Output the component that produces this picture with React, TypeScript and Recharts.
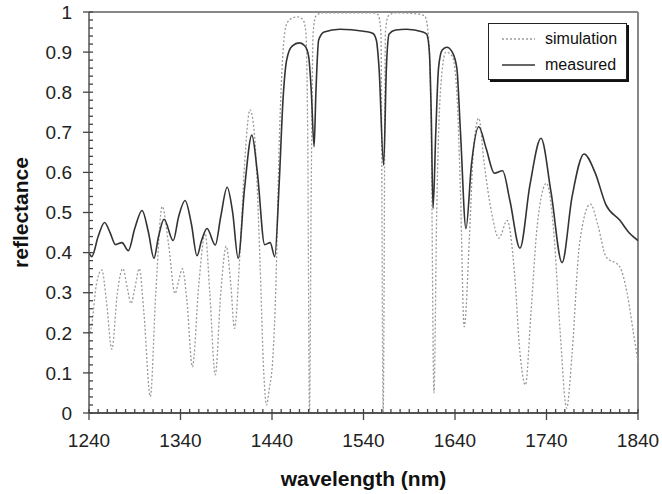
import React from 'react';
import { LineChart, Line, XAxis, YAxis, Legend, Label, ReferenceLine } from 'recharts';

const FONT = '"Liberation Sans", Arial, sans-serif';

const seriesNames = ['simulation', 'measured'];

const measuredWavelength = [
  1240, 1243, 1250, 1257, 1263, 1269, 1276, 1283, 1290, 1298, 1305, 1311, 1316, 1322, 1332, 1338,
  1345, 1352, 1358, 1363, 1369, 1378, 1384, 1391, 1397, 1403, 1410, 1418, 1424, 1432, 1438, 1443,
  1448, 1452, 1456, 1462, 1470, 1476, 1480, 1483, 1486, 1488, 1491, 1497, 1514, 1540, 1550, 1554,
  1557, 1562, 1565, 1568, 1575, 1587, 1605, 1609, 1612, 1614, 1616, 1619, 1622, 1626, 1631, 1637,
  1642, 1646, 1652, 1658, 1666, 1674, 1683, 1692, 1700, 1711, 1722, 1734, 1745, 1757, 1768, 1781,
  1793, 1805, 1820, 1830, 1840,
];
const measuredReflectance = [
  0.4, 0.39, 0.44, 0.475, 0.45, 0.42, 0.425, 0.405, 0.46, 0.505, 0.45, 0.386, 0.44, 0.483, 0.43, 0.49,
  0.53, 0.47, 0.392, 0.43, 0.46, 0.419, 0.49, 0.563, 0.5, 0.386, 0.56, 0.693, 0.6, 0.42, 0.425, 0.39,
  0.58, 0.78, 0.88, 0.915, 0.923, 0.915, 0.89, 0.8, 0.664, 0.8, 0.93, 0.95, 0.957, 0.952, 0.947, 0.93,
  0.86, 0.618, 0.86, 0.945, 0.955, 0.957, 0.95, 0.945, 0.9, 0.75, 0.51, 0.7, 0.86, 0.905, 0.912, 0.9,
  0.86, 0.7, 0.46, 0.62, 0.714, 0.66, 0.598, 0.604, 0.53, 0.411, 0.57, 0.685, 0.55, 0.375, 0.54, 0.646,
  0.6, 0.519, 0.481, 0.45, 0.43,
];

const simulationWavelength = [
  1240, 1243, 1248, 1254, 1259, 1265, 1271, 1277, 1282, 1286, 1290, 1295, 1300, 1307, 1313, 1320,
  1327, 1334, 1338, 1342, 1347, 1353, 1360, 1367, 1372, 1378, 1384, 1390, 1395, 1399, 1405, 1410,
  1416, 1421, 1427, 1431, 1434, 1437, 1441, 1444, 1448, 1452, 1456, 1462, 1468, 1474, 1477, 1479,
  1481, 1483, 1485, 1488, 1495, 1550, 1556, 1559, 1561.5, 1564, 1567, 1575, 1600, 1607, 1611, 1614,
  1617, 1620, 1624, 1630, 1637, 1642, 1646, 1650, 1656, 1660, 1666, 1672, 1680, 1688, 1697, 1705,
  1711, 1717, 1723, 1730, 1740, 1748, 1755, 1762, 1768, 1776, 1788, 1796, 1805, 1820, 1828, 1835,
  1840,
];
const simulationReflectance = [
  0.19, 0.22, 0.32, 0.357, 0.28, 0.159, 0.3, 0.36, 0.31, 0.273, 0.31, 0.36, 0.25, 0.041, 0.3, 0.515,
  0.42, 0.298, 0.33, 0.36, 0.28, 0.115, 0.32, 0.448, 0.3, 0.095, 0.3, 0.416, 0.32, 0.211, 0.4, 0.62,
  0.756, 0.69, 0.37, 0.1, 0.02, 0.06, 0.14, 0.3, 0.68, 0.9, 0.97, 0.985, 0.988, 0.98, 0.95, 0.7,
  0.0, 0.6, 0.95, 0.99, 0.998, 0.998, 0.993, 0.95, 0.0, 0.95, 0.99, 0.998, 0.995, 0.99, 0.94, 0.7,
  0.05, 0.5, 0.8, 0.9, 0.89, 0.8, 0.55, 0.215, 0.45, 0.65, 0.735, 0.62, 0.5, 0.436, 0.48, 0.35,
  0.15, 0.07, 0.25, 0.47, 0.573, 0.45, 0.2, 0.012, 0.15, 0.42, 0.521, 0.47, 0.39, 0.365, 0.3, 0.2,
  0.128,
];

const xTickValues = [1240, 1340, 1440, 1540, 1640, 1740, 1840];
const xTickLabels = ['1240', '1340', '1440', '1540', '1640', '1740', '1840'];
const yTickValues = [0, 0.1, 0.2, 0.3, 0.4, 0.5, 0.6, 0.7, 0.8, 0.9, 1];
const yTickLabels = ['0', '0.1', '0.2', '0.3', '0.4', '0.5', '0.6', '0.7', '0.8', '0.9', '1'];

// minor tick positions (every 10 nm / every 0.02)
const xAllTicks = Array.from({ length: 61 }, (_, i) => 1240 + i * 10);
const yAllTicks = Array.from({ length: 51 }, (_, i) => Math.round(i * 2) / 100);

const measuredData = measuredWavelength.map((x, i) => ({ x, r: measuredReflectance[i] }));
const simulationData = simulationWavelength.map((x, i) => ({ x, r: simulationReflectance[i] }));

const TICK_COLOR = '#444';
const LABEL_COLOR = '#222';

const XTick = (props: any) => {
  const { x, y, payload } = props;
  const v = payload.value;
  const idx = xTickValues.findIndex((t) => Math.abs(t - v) < 1e-6);
  const major = idx >= 0;
  return (
    <g>
      <line x1={x} y1={y - 4} x2={x} y2={major ? y + 7 : y} stroke={TICK_COLOR} strokeWidth={1.3} />
      {major && (
        <text
          x={x}
          y={y + 21}
          dy="0.71em"
          textAnchor="middle"
          fill={LABEL_COLOR}
          fontSize={19}
          fontFamily={FONT}
        >
          {xTickLabels[idx]}
        </text>
      )}
    </g>
  );
};

const YTick = (props: any) => {
  const { x, y, payload } = props;
  const v = payload.value;
  const idx = yTickValues.findIndex((t) => Math.abs(t - v) < 1e-6);
  const major = idx >= 0;
  return (
    <g>
      <line x1={major ? x - 6 : x} y1={y} x2={x + 4} y2={y} stroke={TICK_COLOR} strokeWidth={1.3} />
      {major && (
        <text
          x={x - 17}
          y={y}
          dy="0.355em"
          textAnchor="end"
          fill={LABEL_COLOR}
          fontSize={19}
          fontFamily={FONT}
        >
          {yTickLabels[idx]}
        </text>
      )}
    </g>
  );
};

const renderLegend = (props: any) => {
  const payload = [...(props.payload || [])].sort(
    (a: any, b: any) => seriesNames.indexOf(a.value) - seriesNames.indexOf(b.value)
  );
  return (
    <div
      style={{
        width: 139,
        height: 57,
        boxSizing: 'border-box',
        border: '1px solid #222',
        boxShadow: '2px 2px 0 #111',
        background: '#fff',
        paddingTop: 2,
        fontFamily: FONT,
        fontSize: 16,
        color: '#111',
      }}
    >
      {payload.map((entry: any) => (
        <div key={entry.value} style={{ display: 'flex', alignItems: 'center', height: 26 }}>
          <svg width={33} height={4} style={{ marginLeft: 13, marginRight: 10 }}>
            <line
              x1={0}
              y1={2}
              x2={33}
              y2={2}
              stroke={entry.color}
              strokeWidth={entry.payload?.strokeWidth || 1}
              strokeDasharray={entry.payload?.strokeDasharray}
            />
          </svg>
          <span>{entry.value}</span>
        </div>
      ))}
    </div>
  );
};

export default function App() {
  return (
    <div style={{ position: 'absolute', left: 0, top: 0, width: 662, height: 494, background: '#fff' }}>
      <LineChart width={662} height={494} margin={{ top: 12, right: 24, left: 0, bottom: 0 }}>
        <XAxis
          xAxisId="x"
          type="number"
          dataKey="x"
          domain={[1240, 1840]}
          allowDataOverflow
          ticks={xAllTicks}
          interval={0}
          height={81}
          tickSize={0}
          tickMargin={0}
          tickLine={false}
          axisLine={{ stroke: '#555', strokeWidth: 2 }}
          tick={<XTick />}
        >
          <Label
            value="wavelength (nm)"
            position="insideBottom"
            offset={8}
            style={{ fill: '#111', fontSize: 21, fontWeight: 'bold', fontFamily: FONT }}
          />
        </XAxis>
        <YAxis
          yAxisId="y"
          type="number"
          domain={[0, 1]}
          allowDataOverflow
          ticks={yAllTicks}
          interval={0}
          width={89}
          tickSize={0}
          tickMargin={0}
          tickLine={false}
          axisLine={{ stroke: '#555', strokeWidth: 1.5 }}
          tick={<YTick />}
        >
          <Label
            value="reflectance"
            angle={-90}
            position="insideLeft"
            offset={21}
            style={{ fill: '#111', fontSize: 21, fontWeight: 'bold', fontFamily: FONT, textAnchor: 'middle' }}
          />
        </YAxis>
        <ReferenceLine xAxisId="x" yAxisId="y" y={1} stroke="#888" strokeWidth={2} />
        <ReferenceLine xAxisId="x" yAxisId="y" x={1840} stroke="#888" strokeWidth={2} />
        <Legend
          layout="vertical"
          align="center"
          verticalAlign="middle"
          content={renderLegend}
          wrapperStyle={{ position: 'absolute', left: 488, top: 23, width: 139, height: 57 }}
        />
        <Line
          xAxisId="x"
          yAxisId="y"
          name={seriesNames[0]}
          data={simulationData}
          dataKey="r"
          type="monotone"
          stroke="#9a9a9a"
          strokeWidth={1.3}
          strokeDasharray="2 2"
          dot={false}
          activeDot={false}
          isAnimationActive={false}
        />
        <Line
          xAxisId="x"
          yAxisId="y"
          name={seriesNames[1]}
          data={measuredData}
          dataKey="r"
          type="monotone"
          stroke="#333"
          strokeWidth={1.6}
          dot={false}
          activeDot={false}
          isAnimationActive={false}
        />
      </LineChart>
    </div>
  );
}
